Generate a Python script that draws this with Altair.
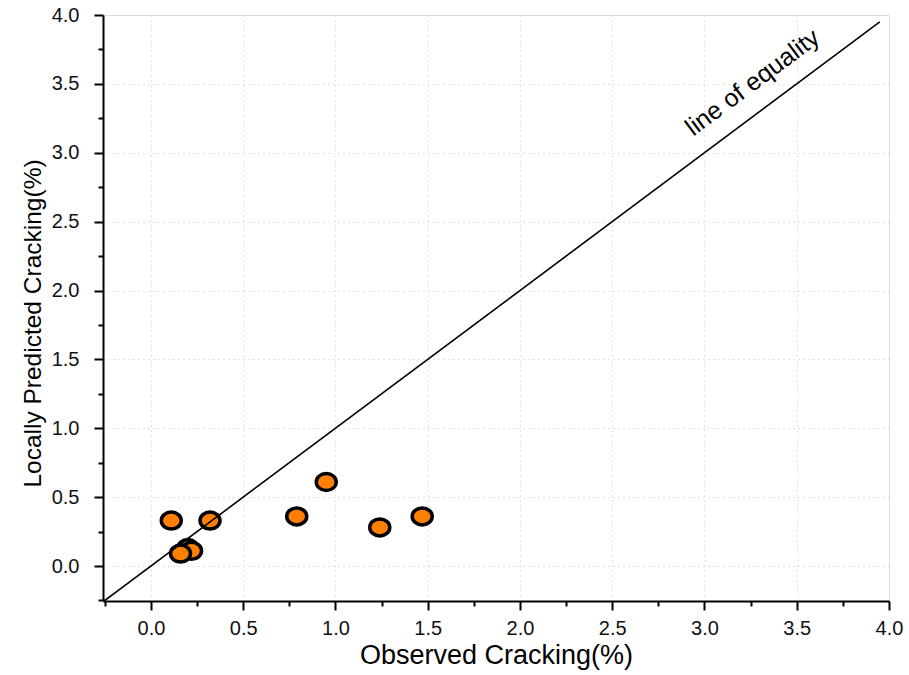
import altair as alt
import pandas as pd

# Observed vs. locally predicted cracking (%)
observed = [0.11, 0.32, 0.20, 0.22, 0.16, 0.79, 0.95, 1.24, 1.47]
predicted = [0.33, 0.33, 0.13, 0.11, 0.09, 0.36, 0.61, 0.28, 0.36]

# Line of equality end points and its label position
equality_x = [-0.26, 3.95]
equality_y = [-0.26, 3.95]
label_x = [3.26]
label_y = [3.51]
label_text = ["line of equality"]

major_ticks = [0.0, 0.5, 1.0, 1.5, 2.0, 2.5, 3.0, 3.5, 4.0]
grid_ticks = [0.0, 0.5, 1.0, 1.5, 2.0, 2.5, 3.0, 3.5]
minor_ticks = [-0.25, 0.25, 0.75, 1.25, 1.75, 2.25, 2.75, 3.25, 3.75]

X_DOMAIN = [-0.26, 4.0]
Y_DOMAIN = [-0.254, 4.0]
FONT = "Liberation Sans"

pts = pd.DataFrame({"obs": observed, "pred": predicted})
eq = pd.DataFrame({"obs": equality_x, "pred": equality_y})
lab = pd.DataFrame({"obs": label_x, "pred": label_y, "text": label_text})

xscale = alt.Scale(domain=X_DOMAIN, nice=False, zero=False)
yscale = alt.Scale(domain=Y_DOMAIN, nice=False, zero=False)

common = dict(
    values=major_ticks, format=".1f", grid=False,
    domainColor="black", domainWidth=2, tickColor="black", tickWidth=2,
    tickSize=9, labelFontSize=20, labelFont=FONT, labelColor="#111",
    titleFont=FONT, titleFontWeight="normal", titleColor="black",
    labelFlush=False,
)
x_major = alt.Axis(
    title="Observed Cracking(%)", orient="bottom",
    labelPadding=8, titleFontSize=27, titlePadding=4, **common,
)
y_major = alt.Axis(
    title="Locally Predicted Cracking(%)", orient="left",
    labelPadding=15, titleFontSize=24.5, titlePadding=6, titleY=308, **common,
)

# Dotted grid at the major ticks (none on the far edges)
grid_style = dict(
    values=grid_ticks, grid=True, gridColor="#c4c4c4", gridDash=[1, 4],
    gridWidth=1, labels=False, ticks=False, domain=False, title=None,
)
x_grid = alt.Axis(orient="bottom", **grid_style)
y_grid = alt.Axis(orient="left", **grid_style)

# Short unlabeled minor ticks halfway between the majors
minor_style = dict(
    values=minor_ticks, labels=False, title=None, grid=False, domain=False,
    tickColor="black", tickWidth=2, tickSize=5,
)
x_minor = alt.Axis(orient="bottom", **minor_style)
y_minor = alt.Axis(orient="left", **minor_style)

grid = alt.Chart(eq).mark_point(opacity=0).encode(
    x=alt.X("obs:Q", scale=xscale, axis=x_grid),
    y=alt.Y("pred:Q", scale=yscale, axis=y_grid),
)

minor = alt.Chart(eq).mark_point(opacity=0).encode(
    x=alt.X("obs:Q", scale=xscale, axis=x_minor),
    y=alt.Y("pred:Q", scale=yscale, axis=y_minor),
)

ellipse = "M -1 0 A 1 0.85 0 1 0 1 0 A 1 0.85 0 1 0 -1 0 Z"
points = alt.Chart(pts).mark_point(
    shape=ellipse, filled=True, fill="#FF8000", stroke="black",
    strokeWidth=3.5, opacity=1, size=400,
).encode(
    x=alt.X("obs:Q", scale=xscale, axis=None),
    y=alt.Y("pred:Q", scale=yscale, axis=None),
)

line = alt.Chart(eq).mark_line(color="black", strokeWidth=1.6, clip=True).encode(
    x=alt.X("obs:Q", scale=xscale, axis=x_major),
    y=alt.Y("pred:Q", scale=yscale, axis=y_major),
)

label = alt.Chart(lab).mark_text(
    angle=323.3, fontSize=25, font=FONT, color="black",
    align="center", baseline="middle",
).encode(
    x=alt.X("obs:Q", scale=xscale, axis=None),
    y=alt.Y("pred:Q", scale=yscale, axis=None),
    text="text:N",
)

chart = (
    alt.layer(grid, minor, points, line, label)
    .resolve_axis(x="independent", y="independent")
    .properties(
        width=786, height=586,
        autosize=alt.AutoSizeParams(type="none"),
        padding={"left": 103, "top": 15, "right": 20, "bottom": 74},
    )
    .configure_view(strokeWidth=0)
    .configure(background="white")
)

chart.save("out.html", embed_options={"renderer": "svg", "actions": False})
